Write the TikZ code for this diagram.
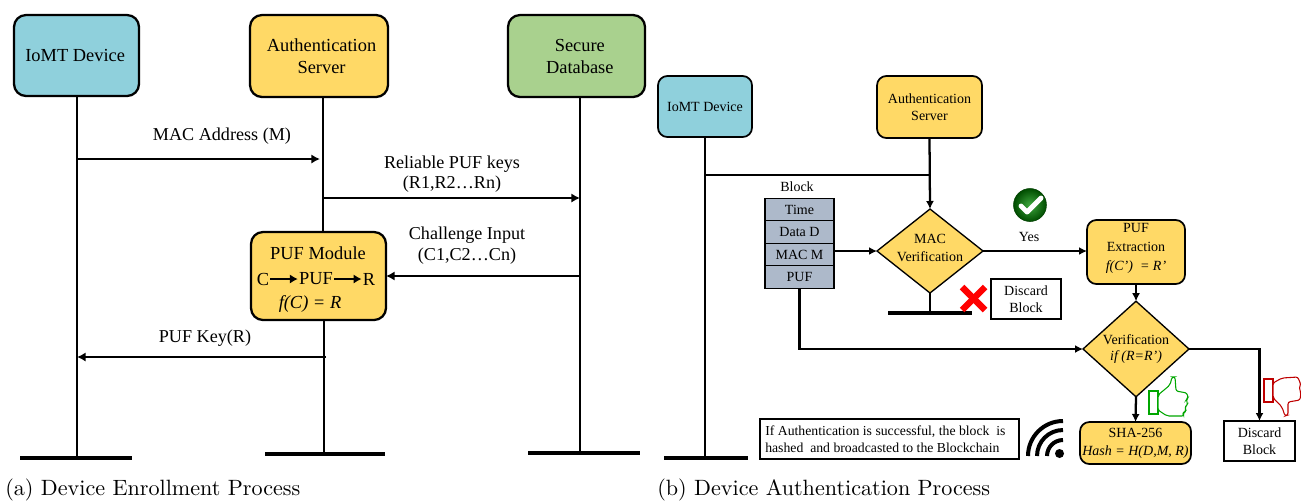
\documentclass[tikz,border=0pt]{standalone}
\usepackage{fontspec}
\setmainfont{Liberation Serif}
\newfontfamily\capfont{lmroman10-regular.otf}
\usetikzlibrary{arrows.meta,shapes.geometric,calc}
\def\u{0.75pt}
\definecolor{ublue}{HTML}{8FD0DC}
\definecolor{uyel}{HTML}{FFD966}
\definecolor{ugrn}{HTML}{A9D18E}
\definecolor{ugray}{HTML}{ADB9CA}
\tikzset{
  bx/.style={draw=black,line width=1.7pt,rounded corners=9pt,inner sep=0pt,outer sep=0pt,align=center},
  bigt/.style={font=\fontsize{13.8}{16.5}\selectfont},
  smt/.style={font=\fontsize{10.5}{12.5}\selectfont},
  lbl/.style={font=\fontsize{13.6}{15.3}\selectfont,align=center,inner sep=0pt},
  sl/.style={font=\fontsize{10.5}{12.5}\selectfont,align=center,inner sep=0pt},
  life/.style={line width=2.1pt},
  base/.style={line width=3pt},
  arr/.style={line width=1.9pt,-{Latex[length=6.5pt,width=7pt]}},
  arrb/.style={line width=1.7pt,-{Latex[length=6pt,width=6pt]}},
  dia/.style={diamond,draw=black,line width=1pt,fill=uyel,inner sep=0pt,outer sep=0pt,align=center,smt},
  whitebox/.style={draw=black,line width=1.2pt,fill=white,inner sep=0pt,outer sep=0pt,align=center,smt},
  row/.style={draw=black,line width=.9pt,fill=ugray,inner sep=0pt,outer sep=0pt,smt,minimum width=69*\u,minimum height=22.5*\u},
  captxt/.style={font=\capfont\fontsize{16.6}{20}\selectfont,anchor=west,inner sep=0pt},
}
\begin{document}
\begin{tikzpicture}[x=0.75pt,y=-0.75pt]
\useasboundingbox (0,0) rectangle (1301,501);
% (a)
\node[bx,bigt,fill=ublue,minimum width=125*\u,minimum height=81*\u] (iot) at (76.5,55.5) {IoMT Device\hspace*{2pt}};
\node[bx,bigt,fill=uyel,minimum width=138*\u,minimum height=82*\u] (auth) at (319,56) {\hspace*{3.8pt}Authentication\\\hspace*{3.8pt}Server};
\node[bx,bigt,fill=ugrn,minimum width=137*\u,minimum height=82*\u] (db) at (576.5,56) {\hspace*{5pt}Secure\\\hspace*{5pt}Database};
\node[bx,fill=uyel,minimum width=135*\u,minimum height=88*\u] (puf) at (318.5,276) {};
\node[bigt,inner sep=0pt] (pufm) at (318,253) {PUF Module};
\node[bigt,inner sep=0pt] (pc) at (263,279) {C};
\node[bigt,inner sep=0pt] (pp) at (316,279) {PUF};
\node[bigt,inner sep=0pt] (pr) at (369,279) {R};
\node[bigt,inner sep=0pt] (pf) at (310,304) {\itshape f(C) = R};
\draw[line width=2.2pt,-{Latex[length=6pt,width=7pt]}] (pc.east)++(1,0) -- ($(pp.west)+(-1,0)$);
\draw[line width=2.2pt,-{Latex[length=6pt,width=7pt]}] (pp.east)++(1,0) -- ($(pr.west)+(-1,0)$);

\coordinate (b1) at (77,458); \coordinate (b1l) at (20,458); \coordinate (b1r) at (132,458);
\coordinate (b2) at (324,454); \coordinate (b2l) at (265,454); \coordinate (b2r) at (385,454);
\coordinate (b3) at (580,453); \coordinate (b3l) at (528,453); \coordinate (b3r) at (640,453);
\coordinate (pt) at (323,232); \coordinate (at) at (323,97);
\coordinate (pb) at (324,320);
\draw[life] (77,96) coordinate (i0) -- (b1);
\draw[life] (at) -- (pt);
\draw[life] (pb) -- (b2);
\draw[life] (580,97) coordinate (d0) -- (b3);
\draw[base] (b1l) -- (b1r);
\draw[base] (b2l) -- (b2r);
\draw[base] (b3l) -- (b3r);
\coordinate (a1s) at (77,159); \coordinate (a1e) at (320,159);
\coordinate (a2s) at (323,198); \coordinate (a2e) at (580,198);
\coordinate (a3s) at (580,276);
\coordinate (a4s) at (326,357); \coordinate (a4e) at (77,357);
\draw[arr] (a1s) -- (a1e);
\draw[arr] (a2s) -- (a2e);
\draw[arr] (a3s) -- (puf.east);
\draw[arr] (a4s) -- (a4e);
\node[lbl] (l1) at (222,136) {MAC Address (M)};
\node[lbl] (l2) at (452,174) {Reliable PUF keys\\(R1,R2…Rn)};
\node[lbl] (l3) at (467,245.5) {Challenge Input\\(C1,C2…Cn)};
\node[lbl] (l4) at (205,338) {PUF Key(R)};
\node[captxt] (c1) at (5,490) {(a) Device Enrollment Process};
\node[captxt] (c2) at (657,490) {(b) Device Authentication Process};
% (b)
\node[bx,smt,fill=ublue,rounded corners=7pt,line width=1.3pt,minimum width=94*\u,minimum height=61*\u] (iot2) at (705,106.5) {IoMT Device};
\node[bx,smt,fill=uyel,rounded corners=7pt,line width=1.3pt,minimum width=105*\u,minimum height=62*\u] (auth2) at (929.5,107) {Authentication\\Server};
\node[dia,minimum width=106*\u,minimum height=84*\u] (mac) at (930,251) {};
\node[sl,font=\fontsize{10.5}{13.5}\selectfont] (mact) at (930,248) {MAC\\Verification};
\node[row] (r1) at (799.5,209.5) {Time};
\node[row] (r2) at (799.5,232) {Data D};
\node[row] (r3) at (799.5,254.5) {MAC M};
\node[row] (r4) at (799.5,277) {PUF};
\node[sl] (blk) at (797,187) {Block};
\node[whitebox,minimum width=70*\u,minimum height=40*\u] (dis1) at (1026,299) {Discard\\Block};
\node[bx,fill=uyel,rounded corners=7pt,line width=1.3pt,minimum width=98*\u,minimum height=64*\u] (ext) at (1136,252) {};
\node[sl,font=\fontsize{10.5}{14.5}\selectfont] (extt) at (1136,248.5) {PUF\\Extraction\\\itshape f(C’)\ \ = R’};
\node[dia,minimum width=106*\u,minimum height=86*\u] (ver) at (1136,349) {Verification\\\itshape if (R=R’)};
\node[bx,smt,fill=uyel,rounded corners=7pt,line width=1.3pt,minimum width=111*\u,minimum height=42*\u,font=\fontsize{10.5}{13.5}\selectfont] (sha) at (1135.5,443) {SHA-256\\\itshape Hash = H(D,M, R)};
\node[whitebox,minimum width=71*\u,minimum height=40*\u] (dis2) at (1259.5,441) {Discard\\Block};
\node[whitebox,line width=.9pt,minimum width=259*\u,minimum height=40*\u] (txt) at (889.5,439) {};
\node[inner sep=0pt,anchor=west,align=left,font=\fontsize{10.3}{13}\selectfont] (txtt) at (765,439) {If Authentication is successful, the block\ \ is\\hashed\ \ and broadcasted to the Blockchain};
\node[sl] (yes) at (1029,237) {Yes};

\coordinate (b4) at (705,458); \coordinate (b4l) at (664,458); \coordinate (b4r) at (748,458);
\coordinate (b5) at (930,313); \coordinate (b5l) at (888,313); \coordinate (b5r) at (972,313);
\coordinate (j1) at (705,175); \coordinate (j2) at (930,175);
\draw[line width=1.8pt] (iot2.south) -- (b4);
\draw[base] (b4l) -- (b4r);
\draw[arrb] (auth2.south) -- (mac.north);
\draw[line width=1.7pt] (j1) -- (j2);
\draw[arrb] (r3.east |- mac.west) -- (mac.west);
\draw[line width=1.7pt] (mac.south) -- (b5);
\draw[base] (b5l) -- (b5r);
\draw[arrb] (mac.east) -- (ext.west |- mac.east);
\draw[arrb] (ext.south) -- (ver.north);
\draw[arrb] (r4.south) -- (r4.south |- ver.west) -- (ver.west);
\draw[arrb] (ver.south) -- (sha.north);
\draw[arrb] (ver.east) -| (dis2.north);
% X
\draw[red,line width=4.8pt] (962,287) coordinate (x1) -- (985,310) coordinate (x2);
\draw[red,line width=4.8pt] (985,287) coordinate (x3) -- (962,310) coordinate (x4);
% check icon
\shade[inner color=green!55!black!75!white,outer color=green!30!black,draw=green!25!black,line width=.4pt] (1030,205) circle (16.5);
\draw[white,line width=3.7pt,line cap=round,line join=round] (1021,206) -- (1027,212) -- (1041,198);
% thumbs
\draw[draw=green!65!black,line width=.8pt,fill=white] (1149,391) rectangle (1158,414);
\draw[draw=green!65!black,line width=.8pt,fill=white,rounded corners=1.6pt] (1158,395) -- (1170,385) -- (1172,377) -- (1175,377) -- (1176,391) -- (1187,393) -- (1188,398) -- (1186,400) -- (1188,404) -- (1185,407) -- (1186,411) -- (1183,413) -- (1184,416) -- (1167,416) -- (1158,410) -- cycle;
\draw[draw=red!75!black,line width=.8pt,fill=white] (1264,379) rectangle (1273,402);
\draw[draw=red!75!black,line width=.8pt,fill=white,rounded corners=1.6pt] (1273,383) -- (1282,378) -- (1298,377) -- (1299,381) -- (1301,384) -- (1299,388) -- (1301,392) -- (1300,400) -- (1288,402) -- (1288,415) -- (1285,416) -- (1282,407) -- (1273,398) -- cycle;
% wifi
\fill (1059.5,453.5) circle (4.5);
\draw[line width=3pt] (1047,456) arc[start angle=180,end angle=270,radius=16];
\draw[line width=3pt] (1037,456) arc[start angle=180,end angle=270,radius=26];
\draw[line width=3pt] (1028,456) arc[start angle=180,end angle=270,radius=35];
\end{tikzpicture}
\end{document}
